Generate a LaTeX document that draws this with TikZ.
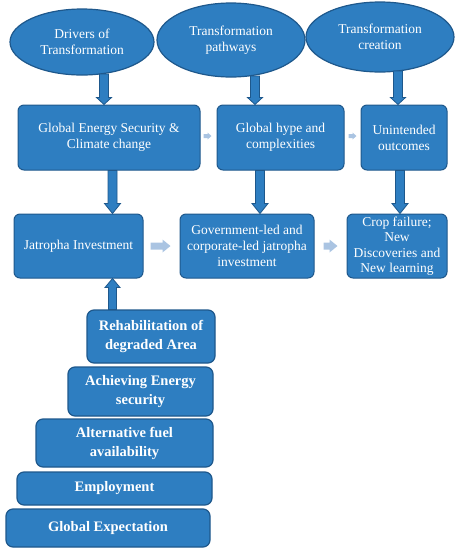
\documentclass[tikz,border=0pt]{standalone}
\usepackage{fontspec}
\setmainfont{Liberation Serif}
\usetikzlibrary{calc,shapes.geometric}
\definecolor{boxfill}{RGB}{46,126,193}
\definecolor{boxline}{RGB}{30,88,140}
\definecolor{lightarr}{RGB}{170,196,226}
\newcommand\fatarrow[6]{%
  \coordinate (fatH) at ($(#3)!#6!(#2)$);
  \draw[#1] ($(#2)!#4!90:(#3)$) -- ($(fatH)!#4!-90:(#2)$) -- ($(fatH)!#5!-90:(#2)$) -- (#3) -- ($(fatH)!#5!90:(#2)$) -- ($(fatH)!#4!90:(#2)$) -- ($(#2)!#4!-90:(#3)$) -- cycle;
}
\tikzset{
  oval/.style={ellipse, draw=boxline, line width=1.2pt, fill=boxfill, text=white, align=center, inner sep=0pt, font=\fontsize{13.5}{16.5}\selectfont},
  bbox/.style={rectangle, rounded corners=6pt, draw=boxline, line width=1pt, fill=boxfill, text=white, align=center, inner sep=0pt, font=\fontsize{13.5}{16}\selectfont},
  sbox/.style={rectangle, rounded corners=7pt, draw=boxline, line width=1.2pt, fill=boxfill, text=white, align=center, inner sep=0pt, font=\bfseries\fontsize{14.5}{19}\selectfont},
  darr/.style={draw=boxline, fill=boxfill, line width=0.8pt, line join=miter},
  larr/.style={fill=lightarr, draw=none},
}
\begin{document}
\begin{tikzpicture}[x=1pt,y=-1pt]
\useasboundingbox (0,0) rectangle (458,550);
% ellipses
\node[oval, minimum width=144pt, minimum height=66pt] (E1) at (82,42) {Drivers of\\Transformation};
\node[oval, minimum width=148pt, minimum height=74pt] (E2) at (231,40) {Transformation\\pathways};
\node[oval, minimum width=148pt, minimum height=70pt] (E3) at (380,37) {Transformation\\creation};
% row 1
\node[bbox, minimum width=182pt, minimum height=65pt] (B1) at (109,137.5) {Global Energy Security \&\\Climate change};
\node[bbox, minimum width=127pt, minimum height=65pt] (B2) at (280.5,137.5) {Global hype and\\complexities};
\node[bbox, minimum width=86pt, minimum height=65pt] (B3) at (404,137.5) {Unintended\\outcomes};
% row 2
\node[bbox, minimum width=129pt, minimum height=64pt] (C1) at (78.5,246) {Jatropha Investment};
\node[bbox, minimum width=134pt, minimum height=64pt] (C2) at (247,246) {Government-led and\\corporate-led jatropha\\investment};
\node[bbox, minimum width=100pt, minimum height=64pt, font=\fontsize{13.5}{15.5}\selectfont] (C3) at (397,246) {Crop failure;\\New\\Discoveries and\\New learning};
% stack
\node[sbox, minimum width=128pt, minimum height=53pt] (S1) at (151,336.5) {Rehabilitation of\\degraded Area};
\node[sbox, minimum width=145pt, minimum height=49pt] (S2) at (140.5,391.5) {Achieving Energy\\security};
\node[sbox, minimum width=177pt, minimum height=48pt] (S3) at (124.5,443) {Alternative fuel\\availability};
\node[sbox, minimum width=195pt, minimum height=33pt] (S4) at (114.5,488.5) {Employment};
\node[sbox, minimum width=204pt, minimum height=38pt] (S5) at (108,528) {Global Expectation};
% arrow anchors
\coordinate (a1) at (104,74);
\coordinate (a2) at (255,76);
\coordinate (a3) at (398,71);
\coordinate (d1) at (112.5,0);
\coordinate (d2) at (260,0);
\coordinate (d3) at (400,0);
% ellipse -> row 1
\fatarrow{darr}{a1}{a1 |- B1.north}{4.5pt}{7.5pt}{7pt}
\fatarrow{darr}{a2}{a2 |- B2.north}{4.5pt}{7.5pt}{7pt}
\fatarrow{darr}{a3}{a3 |- B3.north}{4.5pt}{7.5pt}{7pt}
% row 1 -> row 2
\fatarrow{darr}{d1 |- B1.south}{d1 |- C1.north}{4.5pt}{8pt}{10pt}
\fatarrow{darr}{d2 |- B2.south}{d2 |- C2.north}{4.5pt}{8pt}{10pt}
\fatarrow{darr}{d3 |- B3.south}{d3 |- C3.north}{4.5pt}{8pt}{10pt}
% stack -> C1
\fatarrow{darr}{d1 |- S1.north}{d1 |- C1.south}{4pt}{7.5pt}{9pt}
% light arrows
\coordinate (l1) at (0,136);
\coordinate (l2) at (0,246);
\fatarrow{larr}{$(B1.east |- l1)+(3,0)$}{$(B2.west |- l1)+(-5,0)$}{2pt}{3.5pt}{4pt}
\fatarrow{larr}{$(B2.east |- l1)+(4,0)$}{$(B3.west |- l1)+(-4,0)$}{2pt}{3.5pt}{4pt}
\fatarrow{larr}{$(C1.east |- l2)+(7,0)$}{$(C2.west |- l2)+(-9,0)$}{3.5pt}{6.5pt}{8pt}
\fatarrow{larr}{$(C2.east |- l2)+(9,0)$}{$(C3.west |- l2)+(-9,0)$}{3.5pt}{6.5pt}{8pt}
\end{tikzpicture}
\end{document}
